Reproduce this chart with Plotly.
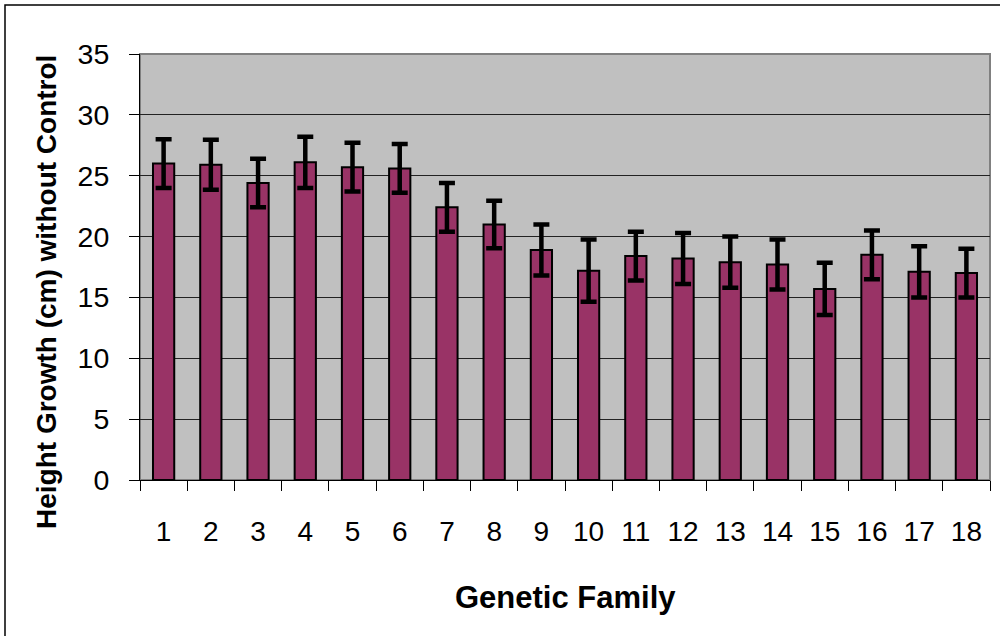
import plotly.graph_objects as go

families = [str(i) for i in range(1, 19)]
means = [26.0, 25.9, 24.4, 26.1, 25.7, 25.6, 22.4, 21.0, 18.9, 17.2, 18.4, 18.2, 17.9, 17.7, 15.7, 18.5, 17.1, 17.0]
errors = [2.0, 2.05, 2.0, 2.1, 2.0, 2.0, 2.0, 1.95, 2.1, 2.55, 2.0, 2.1, 2.1, 2.05, 2.15, 2.0, 2.1, 2.0]
y_ticks = [0, 5, 10, 15, 20, 25, 30, 35]

FONT = "Liberation Sans, Arial, sans-serif"

# plot area in pixels
L, R, T, B = 140, 990, 54, 480
W, H = 1000, 636
pw, ph = R - L, B - T

def px_x(x):
    return (x - L) / pw

def px_y(y):
    return (B - y) / ph

fig = go.Figure()
fig.add_trace(go.Bar(
    x=families,
    y=means,
    marker=dict(color="#993366", line=dict(color="black", width=2)),
    error_y=dict(type="data", array=errors, visible=True, color="black",
                 thickness=4.5, width=8),
    showlegend=False,
))

fig.update_layout(
    width=W, height=H,
    margin=dict(l=L, r=W - R, t=T, b=H - B),
    paper_bgcolor="white",
    plot_bgcolor="#C0C0C0",
    bargap=0.55,
    font=dict(family=FONT, color="black", size=28),
    xaxis=dict(
        type="category",
        tickson="boundaries",
        ticks="outside", ticklen=10, tickwidth=1, tickcolor="black",
        showline=True, linecolor="black", linewidth=1,
        showgrid=False,
        tickfont=dict(size=28, family=FONT, color="black"),
        ticklabelstandoff=26,
    ),
    yaxis=dict(
        range=[0, 35],
        tickvals=y_ticks,
        ticks="outside", ticklen=10, tickwidth=1, tickcolor="black",
        showline=True, linecolor="black", linewidth=1,
        showgrid=True, gridcolor="#222222", gridwidth=1,
        zeroline=False,
        tickfont=dict(size=28.5, family=FONT, color="black"),
        ticklabelstandoff=14,
    ),
    shapes=[
        # plot area gray border (top/right)
        dict(type="rect", xref="paper", yref="paper", x0=0, x1=1, y0=0, y1=1,
             line=dict(color="#808080", width=2), layer="below"),
        # outer chart border
        dict(type="rect", xref="paper", yref="paper",
             x0=px_x(5), x1=px_x(1040), y0=px_y(700), y1=px_y(5),
             line=dict(color="black", width=1.5), layer="above"),
    ],
    annotations=[
        dict(text="<b>Genetic Family</b>", xref="paper", yref="paper",
             x=0.5, y=px_y(597), xanchor="center", yanchor="middle",
             showarrow=False, font=dict(size=31, family=FONT, color="black")),
        dict(text="<b>Height Growth (cm) without Control</b>", xref="paper", yref="paper",
             x=px_x(46), y=px_y(292), xanchor="center", yanchor="middle",
             textangle=-90, showarrow=False,
             font=dict(size=28, family=FONT, color="black")),
    ],
)

fig.write_html("out.html",
               config={"displayModeBar": False},
               post_script="document.body.style.margin='0';document.body.style.overflow='hidden';")
